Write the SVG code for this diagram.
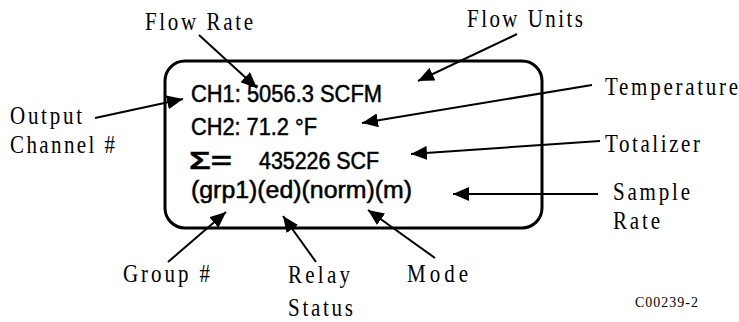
<svg xmlns="http://www.w3.org/2000/svg" width="739" height="322" viewBox="0 0 739 322">
<style>
.lbl{font-family:"Liberation Serif","Times New Roman",serif;font-size:21px;fill:#000}
.code{font-size:14px}
.disp{font-family:"Liberation Sans",Arial,sans-serif;font-size:23px;fill:#000;stroke:#000;stroke-width:0.5px}
.sig{font-size:24px;font-weight:bold;stroke-width:0.3px}
.conn line{stroke:#000;stroke-width:2;fill:none;marker-end:url(#ah)}
</style>
<defs>
<marker id="ah" markerUnits="userSpaceOnUse" markerWidth="18" markerHeight="14" refX="16" refY="7" orient="auto">
<path d="M0,0 L16,7 L0,14 z" fill="#000"/>
</marker>
</defs>
<rect width="739" height="322" fill="#fff"/>
<g id="display">
<rect x="165" y="61" width="377" height="167" rx="20" ry="20" fill="none" stroke="#000" stroke-width="3"/>
<text class="disp" x="191" y="102" textLength="191" lengthAdjust="spacingAndGlyphs">CH1: 5056.3 SCFM</text>
<text class="disp" x="191" y="135" textLength="126" lengthAdjust="spacingAndGlyphs">CH2: 71.2 °F</text>
<text class="disp sig" x="189" y="169" textLength="43" lengthAdjust="spacingAndGlyphs">Σ=</text>
<text class="disp" x="259" y="169" textLength="120" lengthAdjust="spacingAndGlyphs">435226 SCF</text>
<text class="disp" x="191" y="198" textLength="221" lengthAdjust="spacingAndGlyphs">(grp1)(ed)(norm)(m)</text>
</g>
<g id="flow-rate"><text class="lbl" transform="translate(145,30) scale(1,1.2)" textLength="108">Flow Rate</text></g>
<g id="flow-units"><text class="lbl" transform="translate(467,27) scale(1,1.2)" textLength="116">Flow Units</text></g>
<g id="output-channel"><text class="lbl" transform="translate(10,124) scale(1,1.2)" textLength="72">Output</text><text class="lbl" transform="translate(10,152.5) scale(1,1.2)" textLength="105">Channel #</text></g>
<g id="temperature"><text class="lbl" transform="translate(605,95) scale(1,1.2)" textLength="133">Temperature</text></g>
<g id="totalizer"><text class="lbl" transform="translate(605,151.5) scale(1,1.2)" textLength="95">Totalizer</text></g>
<g id="sample-rate"><text class="lbl" transform="translate(613,200) scale(1,1.2)" textLength="77">Sample</text><text class="lbl" transform="translate(613,228.5) scale(1,1.2)" textLength="47">Rate</text></g>
<g id="group"><text class="lbl" transform="translate(123,282) scale(1,1.2)" textLength="87">Group #</text></g>
<g id="relay-status"><text class="lbl" transform="translate(288,282.5) scale(1,1.2)" textLength="62">Relay</text><text class="lbl" transform="translate(288,315.5) scale(1,1.2)" textLength="65">Status</text></g>
<g id="mode"><text class="lbl" transform="translate(407,281.5) scale(1,1.2)" textLength="61">Mode</text></g>
<g id="code"><text class="lbl code" transform="translate(635,307) scale(1,1.1)" textLength="63">C00239-2</text></g>
<g id="connectors" class="conn">
<line x1="199" y1="35" x2="257" y2="88"/>
<line x1="517" y1="34" x2="418" y2="81"/>
<line x1="95" y1="118" x2="183" y2="99"/>
<line x1="592" y1="85" x2="362" y2="123"/>
<line x1="600" y1="141" x2="411" y2="154"/>
<line x1="598" y1="194" x2="453" y2="194"/>
<line x1="168" y1="262" x2="226" y2="212"/>
<line x1="316" y1="262" x2="283" y2="216"/>
<line x1="435" y1="258" x2="368" y2="210"/>
</g>
</svg>
